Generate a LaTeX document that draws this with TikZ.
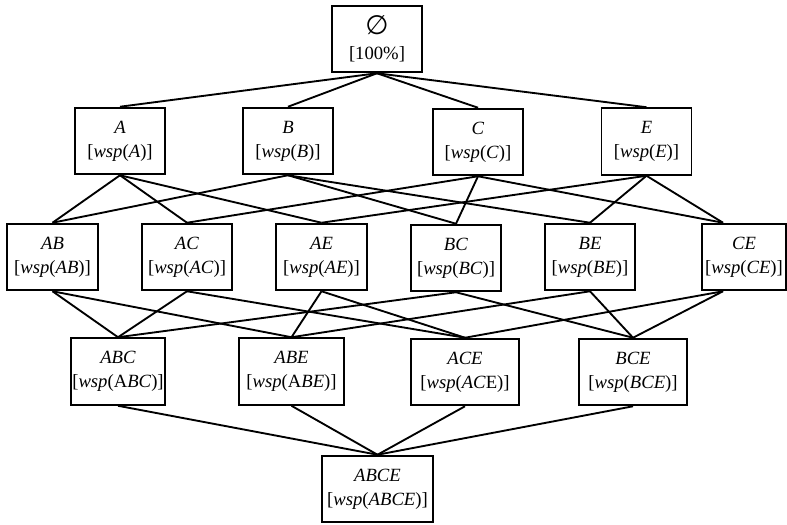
\documentclass[tikz,border=0pt]{standalone}
\usepackage{amsmath}
\usepackage{amssymb}
\usepackage{fontspec}
\setmainfont{Liberation Serif}
\newfontfamily\symbfont{DejaVu Sans}
\usepackage{tikz}

\newcommand{\setlbl}[2]{\textit{#1}\\{}[\textit{wsp}(\textit{#2})]}
\tikzset{
	setbox/.style={draw,line width=1.4pt,minimum width=#1*0.75pt,minimum height=50pt,
		inner sep=0pt,align=center,font=\fontsize{14}{18}\selectfont},
	link/.style={line width=1.4pt}
}

\begin{document}
\begin{tikzpicture}[x=0.75pt,y=-0.75pt]
	\useasboundingbox (0,0) rectangle (787,524);
	% top
	\node[setbox=90] (empty) at (377,39) {{\symbfont\fontsize{20}{20}\selectfont ∅}\\[1pt]{}[100\%]};
	% one item
	\node[setbox=90] (A) at (120,141) {\setlbl{A}{A}};
	\node[setbox=90] (B) at (288,141) {\setlbl{B}{B}};
	\node[setbox=90] (C) at (478,142) {\setlbl{C}{C}};
	\node[setbox=90] (E) at (646.5,141.5) {\setlbl{E}{E}};
	% two items
	\node[setbox=91] (AB) at (52.5,257) {\setlbl{AB}{AB}};
	\node[setbox=90] (AC) at (187,257) {\setlbl{AC}{AC}};
	\node[setbox=91] (AE) at (321.5,257) {\setlbl{AE}{AE}};
	\node[setbox=90] (BC) at (456,258) {\setlbl{BC}{BC}};
	\node[setbox=90] (BE) at (590,257) {\setlbl{BE}{BE}};
	\node[setbox=84] (CE) at (744,257) {\setlbl{CE}{CE}};
	\coordinate (CEtop) at ([xshift=-15.75pt]CE.north);
	\coordinate (CEbot) at ([xshift=-15.75pt]CE.south);
	% three items
	\node[setbox=94] (ABC) at (118,371.5) {\setlbl{ABC}{\textup{A}BC}};
	\node[setbox=105] (ABE) at (291.5,371.5) {\setlbl{ABE}{\textup{A}BE}};
	\node[setbox=108] (ACE) at (465,372) {\setlbl{ACE}{AC\textup{E}}};
	\node[setbox=108] (BCE) at (633,372) {\setlbl{BCE}{BCE}};
	% four items
	\node[setbox=111] (ABCE) at (377.5,489) {\setlbl{ABCE}{ABCE}};

	\foreach \t in {A,B,C,E}
		\draw[link] (empty.south) -- (\t.north);

	\draw[link] (A.south) -- (AB.north);
	\draw[link] (A.south) -- (AC.north);
	\draw[link] (A.south) -- (AE.north);
	\draw[link] (B.south) -- (AB.north);
	\draw[link] (B.south) -- (BC.north);
	\draw[link] (B.south) -- (BE.north);
	\draw[link] (C.south) -- (AC.north);
	\draw[link] (C.south) -- (BC.north);
	\draw[link] (C.south) -- (CEtop);
	\draw[link] (E.south) -- (AE.north);
	\draw[link] (E.south) -- (BE.north);
	\draw[link] (E.south) -- (CEtop);

	\draw[link] (AB.south) -- (ABC.north);
	\draw[link] (AB.south) -- (ABE.north);
	\draw[link] (AC.south) -- (ABC.north);
	\draw[link] (AC.south) -- (ACE.north);
	\draw[link] (AE.south) -- (ABE.north);
	\draw[link] (AE.south) -- (ACE.north);
	\draw[link] (BC.south) -- (ABC.north);
	\draw[link] (BC.south) -- (BCE.north);
	\draw[link] (BE.south) -- (ABE.north);
	\draw[link] (BE.south) -- (BCE.north);
	\draw[link] (CEbot) -- (ACE.north);
	\draw[link] (CEbot) -- (BCE.north);

	\foreach \t in {ABC,ABE,ACE,BCE}
		\draw[link] (\t.south) -- (ABCE.north);
\end{tikzpicture}
\end{document}
